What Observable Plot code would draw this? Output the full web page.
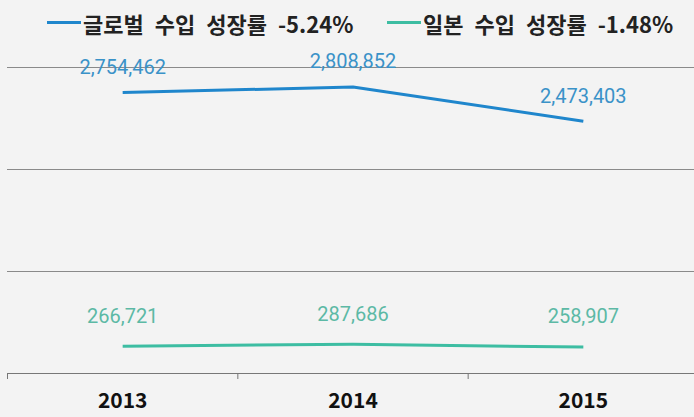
<!DOCTYPE html>
<html><head><meta charset="utf-8">
<script src="https://cdn.jsdelivr.net/npm/d3@7"></script>
<script src="https://cdn.jsdelivr.net/npm/@observablehq/plot@0.6"></script>
<style>
body{margin:0;background:#f3f3f3;}
#legend{position:relative;height:45px;font-family:"Noto Sans CJK KR",sans-serif;font-weight:bold;font-size:22px;color:#222;white-space:nowrap;}
.item{position:absolute;top:0;height:45px;display:flex;align-items:center}
.sw{display:inline-block;flex-shrink:0;width:34px;height:3px;margin-right:2px}
.txt{word-spacing:6px}
#chart svg{display:block}
</style></head><body>
<div id="legend"></div><div id="chart"></div>
<script>
const years = [2013, 2014, 2015];
const globalImports = [2754462, 2808852, 2473403];
const japanImports = [266721, 287686, 258907];
const seriesNames = ["글로벌 수입 성장률 -5.24%", "일본 수입 성장률 -1.48%"];
const seriesColors = ["#1f86cc", "#3dbda2"];
const labelColors = ["#3a92c8", "#5cb9a5"];
const gridValues = [1000000, 2000000, 3000000];

const globalRows = years.map((year, i) => ({year, value: globalImports[i]}));
const japanRows = years.map((year, i) => ({year, value: japanImports[i]}));
const boundaries = [years[0] - 0.5, ...years.map(y => y + 0.5)];
const fmt = d3.format(",");

const legend = document.getElementById("legend");
const legendLeft = [47, 387];
seriesNames.forEach((name, i) => {
  const item = document.createElement("div");
  item.className = "item";
  item.style.left = legendLeft[i] + "px";
  const sw = document.createElement("span");
  sw.className = "sw";
  sw.style.background = seriesColors[i];
  const t = document.createElement("span");
  t.className = "txt";
  t.textContent = name;
  item.appendChild(sw); item.appendChild(t);
  legend.appendChild(item);
});

const chart = Plot.plot({
  width: 694, height: 372,
  marginTop: 22, marginBottom: 44, marginLeft: 7, marginRight: -4,
  style: {background: "transparent", fontFamily: "Roboto, sans-serif", overflow: "hidden"},
  x: {domain: [years[0] - 0.5, years[years.length - 1] + 0.5], axis: null},
  y: {domain: [0, 3000000], axis: null},
  marks: [
    Plot.ruleY(gridValues, {stroke: "#8a8a8a", strokeWidth: 1}),
    Plot.ruleY([0], {stroke: "#777", strokeWidth: 1.2}),
    Plot.ruleX(boundaries, {x: d => d, y1: () => 0, y2: () => 0, insetBottom: -6, stroke: "#777"}),
    Plot.line(globalRows, {x: "year", y: "value", stroke: seriesColors[0], strokeWidth: 3, strokeLinecap: "butt"}),
    Plot.line(japanRows, {x: "year", y: "value", stroke: seriesColors[1], strokeWidth: 3, strokeLinecap: "butt"}),
    Plot.text(globalRows, {x: "year", y: "value", text: d => fmt(d.value), dy: -25, fill: labelColors[0], fontSize: 20}),
    Plot.text(japanRows, {x: "year", y: "value", text: d => fmt(d.value), dy: -30, fill: labelColors[1], fontSize: 20}),
    Plot.text(years, {x: d => d, y: () => 0, text: d => String(d), dy: 28, fontSize: 21, fontWeight: "bold", fill: "#111", fontFamily: "Noto Sans CJK KR"})
  ]
});
document.getElementById("chart").appendChild(chart);
</script>
</body></html>
